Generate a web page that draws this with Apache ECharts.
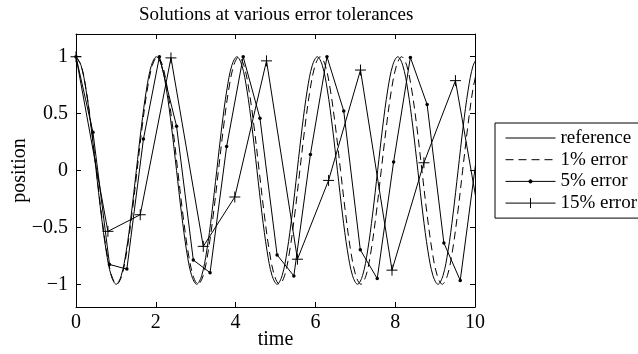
<!DOCTYPE html>
<html><head><meta charset="utf-8">
<script src="https://cdn.jsdelivr.net/npm/echarts@6/dist/echarts.min.js"></script>
<style>html,body{margin:0;padding:0;background:#fff}#c{width:638px;height:354px}</style>
</head><body><div id="c"></div><script>
// ---- data ----
const seriesNames = ['reference', '1% error', '5% error', '15% error'];
const xTicks = [0, 2, 4, 6, 8, 10];
const yTicks = [-1, -0.5, 0, 0.5, 1];

const refTime = [0, 0.126, 0.252, 0.378, 0.504, 0.63, 0.756, 0.882, 1.008, 1.134, 1.26, 1.386, 1.512, 1.638, 1.764, 1.89,
  2.016, 2.142, 2.268, 2.394, 2.52, 2.646, 2.772, 2.898, 3.024, 3.15, 3.276, 3.402, 3.528, 3.654, 3.78, 3.906,
  4.032, 4.158, 4.284, 4.41, 4.536, 4.662, 4.788, 4.914, 5.04, 5.166, 5.292, 5.418, 5.544, 5.67, 5.796, 5.922,
  6.048, 6.174, 6.3, 6.426, 6.552, 6.678, 6.804, 6.93, 7.056, 7.182, 7.308, 7.434, 7.56, 7.686, 7.812, 7.938,
  8.064, 8.19, 8.316, 8.442, 8.568, 8.694, 8.82, 8.946, 9.072, 9.198, 9.324, 9.45, 9.576, 9.702, 9.828, 9.954, 10.08];
const refPos = [1, 0.924, 0.707, 0.383, 0, -0.383, -0.707, -0.924, -1, -0.924, -0.707, -0.383, 0, 0.383, 0.707, 0.924,
  1, 0.924, 0.707, 0.383, 0, -0.383, -0.707, -0.924, -1, -0.924, -0.707, -0.383, 0, 0.383, 0.707, 0.924,
  1, 0.924, 0.707, 0.383, 0, -0.383, -0.707, -0.924, -1, -0.924, -0.707, -0.383, 0, 0.383, 0.707, 0.924,
  1, 0.924, 0.707, 0.383, 0, -0.383, -0.707, -0.924, -1, -0.924, -0.707, -0.383, 0, 0.383, 0.707, 0.924,
  1, 0.924, 0.707, 0.383, 0, -0.383, -0.707, -0.924, -1, -0.924, -0.707, -0.383, 0, 0.383, 0.707, 0.924, 1];

const tol1Time = [0, 0.128, 0.255, 0.383, 0.51, 0.638, 0.765, 0.893, 1.02, 1.148, 1.275, 1.403, 1.53, 1.658, 1.785, 1.913,
  2.04, 2.168, 2.295, 2.423, 2.55, 2.678, 2.805, 2.933, 3.06, 3.188, 3.315, 3.443, 3.57, 3.698, 3.825, 3.953,
  4.08, 4.208, 4.335, 4.463, 4.59, 4.718, 4.845, 4.973, 5.1, 5.228, 5.355, 5.483, 5.61, 5.738, 5.865, 5.993,
  6.12, 6.248, 6.375, 6.503, 6.63, 6.758, 6.885, 7.013, 7.14, 7.268, 7.395, 7.523, 7.65, 7.778, 7.905, 8.033,
  8.16, 8.288, 8.415, 8.543, 8.67, 8.798, 8.925, 9.053, 9.18, 9.308, 9.435, 9.563, 9.69, 9.818, 9.945, 10.073];
const tol1Pos = [1, 0.924, 0.707, 0.383, 0, -0.383, -0.707, -0.924, -1, -0.924, -0.707, -0.383, 0, 0.383, 0.707, 0.924,
  1, 0.924, 0.707, 0.383, 0, -0.383, -0.707, -0.924, -1, -0.924, -0.707, -0.383, 0, 0.383, 0.707, 0.924,
  1, 0.924, 0.707, 0.383, 0, -0.383, -0.707, -0.924, -1, -0.924, -0.707, -0.383, 0, 0.383, 0.707, 0.924,
  1, 0.924, 0.707, 0.383, 0, -0.383, -0.707, -0.924, -1, -0.924, -0.707, -0.383, 0, 0.383, 0.707, 0.924,
  1, 0.924, 0.707, 0.383, 0, -0.383, -0.707, -0.924, -1, -0.924, -0.707, -0.383, 0, 0.383, 0.707, 0.924];

const tol5Time = [0, 0.425, 0.84, 1.275, 1.69, 2.09, 2.52, 2.94, 3.36, 3.775, 4.19, 4.61, 5.04, 5.46, 5.875,
  6.29, 6.71, 7.125, 7.55, 7.96, 8.38, 8.8, 9.22, 9.63, 10.05];
const tol5Pos = [1, 0.336, -0.826, -0.867, 0.276, 1.0, 0.39, -0.787, -0.898, 0.21, 1.0, 0.46, -0.742, -0.927, 0.141,
  1.0, 0.524, -0.697, -0.95, 0.075, 0.994, 0.58, -0.637, -0.966, 0.15];

const tol15Time = [0, 0.8, 1.61, 2.38, 3.19, 3.98, 4.775, 5.55, 6.33, 7.13, 7.92, 8.72, 9.51, 10.3];
const tol15Pos = [1, -0.535, -0.389, 0.99, -0.667, -0.233, 0.964, -0.78, -0.087, 0.883, -0.876, 0.068, 0.79, -0.8];

// ---- chart ----
const FONT = 'Liberation Serif';
const zip = (a, b) => a.map((v, i) => [v, b[i]]);
const minusFmt = v => (v < 0 ? '\u2212' + String(-v) : String(v));

const plusPath = 'path://M0,5L10,5M5,0L5,10';
const iconLine = 'path://M0,0M50,10M0,5L50,5';
const iconDot = 'path://M0,0M50,10M0,5L50,5M25,3.4A1.6,1.6,0,1,1,25,6.6A1.6,1.6,0,1,1,25,3.4Z';
const iconPlus = 'path://M0,0M50,10M0,5L50,5M25,0L25,10';

const axisCommon = {
  type: 'value',
  axisLine: { show: true, onZero: false, lineStyle: { color: '#000', width: 1 } },
  axisTick: { show: true, inside: true, length: 5, lineStyle: { color: '#000', width: 1 } },
  splitLine: { show: false }
};
const labelStyle = { color: '#000', fontFamily: FONT, fontSize: 20 };

const chart = echarts.init(document.getElementById('c'), null, { renderer: 'canvas' });
chart.setOption({
  animation: false,
  backgroundColor: '#fff',
  title: {
    text: 'Solutions at various error tolerances',
    left: 134, top: 1,
    textStyle: { fontFamily: FONT, fontSize: 19, fontWeight: 'normal', color: '#000' }
  },
  grid: { left: 76, right: 163, top: 34, bottom: 47, containLabel: false, outerBoundsMode: 'none' },
  xAxis: [
    Object.assign({}, axisCommon, {
      min: 0, max: 10, interval: 2, position: 'bottom',
      axisLabel: Object.assign({ margin: 6 }, labelStyle),
      name: 'time', nameLocation: 'middle', nameGap: 23, nameMoveOverlap: false,
      nameTextStyle: { fontFamily: FONT, fontSize: 20, color: '#000' }
    }),
    Object.assign({}, axisCommon, {
      min: 0, max: 10, interval: 2, position: 'top',
      axisLabel: { show: false }
    })
  ],
  yAxis: [
    Object.assign({}, axisCommon, {
      min: -1.2, max: 1.2, position: 'left',
      axisTick: Object.assign({}, axisCommon.axisTick, { customValues: yTicks }),
      axisLabel: Object.assign({ margin: 8, formatter: minusFmt, customValues: yTicks }, labelStyle),
      name: 'position', nameLocation: 'middle', nameGap: 46, nameMoveOverlap: false,
      nameTextStyle: { fontFamily: FONT, fontSize: 20, color: '#000' }
    }),
    Object.assign({}, axisCommon, {
      min: -1.2, max: 1.2, position: 'right',
      axisTick: Object.assign({}, axisCommon.axisTick, { customValues: yTicks }),
      axisLabel: { show: false }
    })
  ],
  legend: {
    orient: 'vertical', left: 495, top: 123,
    padding: [5, 20, 5, 10],
    borderColor: '#000', borderWidth: 1, backgroundColor: '#fff', borderRadius: 0,
    itemWidth: 50, itemHeight: 10, itemGap: 1.7,
    textStyle: { fontFamily: FONT, fontSize: 19, color: '#000', lineHeight: 20 },
    data: [
      { name: seriesNames[0], icon: iconLine, itemStyle: { color: '#000', borderColor: '#000', borderWidth: 1 } },
      { name: seriesNames[1], icon: iconLine, itemStyle: { color: '#000', borderColor: '#000', borderWidth: 1, borderType: [8, 5] } },
      { name: seriesNames[2], icon: iconDot, itemStyle: { color: '#000', borderColor: '#000', borderWidth: 1 } },
      { name: seriesNames[3], icon: iconPlus, itemStyle: { color: '#000', borderColor: '#000', borderWidth: 1 } }
    ]
  },
  series: [
    {
      name: seriesNames[0], type: 'line', data: zip(refTime, refPos), smooth: 0.35, symbol: 'none',
      lineStyle: { color: '#000', width: 1 }, itemStyle: { color: '#000' }
    },
    {
      name: seriesNames[1], type: 'line', data: zip(tol1Time, tol1Pos), smooth: 0.35, symbol: 'none',
      lineStyle: { color: '#000', width: 1, type: [8, 5] }, itemStyle: { color: '#000' }
    },
    {
      name: seriesNames[2], type: 'line', data: zip(tol5Time, tol5Pos), symbol: 'circle', symbolSize: 3.5,
      showAllSymbol: true,
      lineStyle: { color: '#000', width: 1 }, itemStyle: { color: '#000', borderWidth: 0 }
    },
    {
      name: seriesNames[3], type: 'line', data: zip(tol15Time, tol15Pos), symbol: plusPath, symbolSize: 11,
      showAllSymbol: true,
      lineStyle: { color: '#000', width: 1 }, itemStyle: { color: '#000', borderColor: '#000', borderWidth: 1 }
    }
  ]
});
</script></body></html>
